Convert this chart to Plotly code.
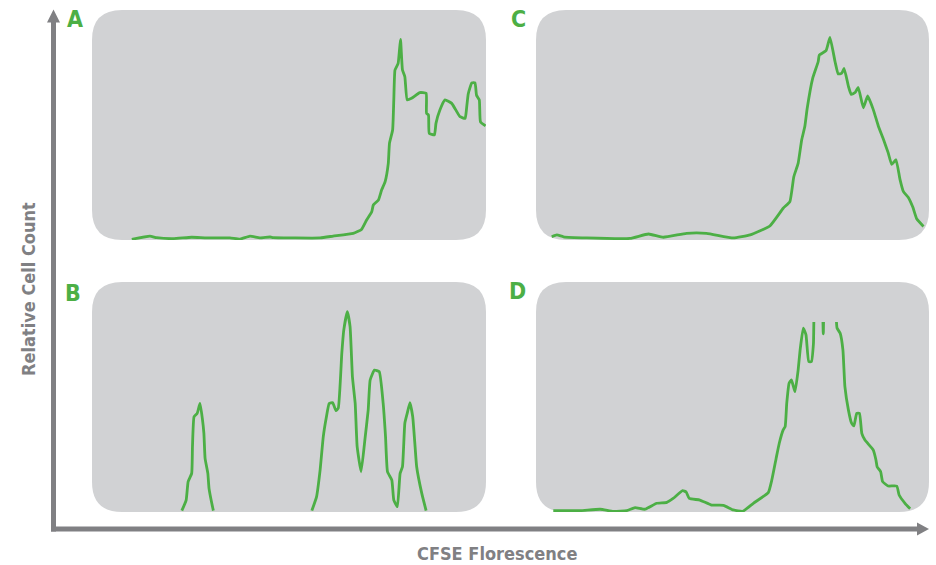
import plotly.graph_objects as go

W, H = 936, 565

# ---- data (x: % of panel width, y: relative count %) ----
a_x = [10.1, 14.7, 16.4, 20.6, 25.3, 29.1, 35.0, 37.6, 40.1, 42.6, 45.2, 46.0, 51.1, 57.9, 61.2, 66.3,
       68.4, 69.7, 71.0, 71.4, 72.7, 73.5, 74.4, 75.2, 75.5, 76.3, 76.6, 76.9, 77.7, 78.3, 78.8, 79.4,
       80.0, 81.1, 83.2, 84.8, 84.9, 85.4, 85.6, 86.9, 87.3, 88.3, 89.6, 91.3, 93.4, 94.7, 95.1, 95.5,
       96.4, 97.2, 97.6, 98.3, 98.6, 99.9]
a_y = [0.3, 1.7, 1.0, 0.6, 1.2, 0.9, 0.9, 0.4, 1.7, 0.9, 1.3, 1.0, 0.9, 0.9, 1.7, 2.9,
       4.6, 8.7, 12.3, 15.2, 17.4, 21.7, 25.4, 33.3, 42.0, 47.8, 60.9, 73.9, 76.8, 87.2, 73.9, 71.0,
       60.9, 61.6, 64.1, 63.8, 55.1, 54.3, 46.4, 45.7, 50.7, 56.5, 60.9, 59.4, 53.6, 52.9, 57.8, 63.6,
       68.3, 68.3, 62.9, 60.9, 51.4, 49.6]

b_x = [22.8, 23.9, 24.4, 25.3, 25.5, 25.9, 26.7, 27.4, 28.0, 28.4, 28.7, 29.4, 29.7, 30.4, 30.8, None,
       55.8, 57.0, 57.9, 58.7, 59.5, 60.2, 61.1, 61.9, 62.5, 63.4, 63.9, 64.8, 65.5, 66.1, 66.8, 67.3,
       68.3, 69.3, 70.1, 70.6, 71.7, 72.9, 73.9, 74.5, 75.0, 76.1, 76.6, 77.5, 78.2, 78.8, 79.4, 80.0,
       80.7, 81.4, 82.0, 82.4, 83.7, 84.8]
b_y = [0.6, 5.2, 13.2, 16.8, 28.4, 41.4, 42.9, 47.2, 40.7, 34.2, 23.3, 16.8, 10.3, 3.8, 0.6, None,
       0.6, 6.7, 18.3, 32.8, 41.4, 47.2, 47.5, 44.1, 45.1, 69.0, 79.1, 87.1, 80.6, 58.8, 47.2, 28.4,
       17.5, 32.0, 44.3, 57.4, 61.7, 61.0, 47.2, 32.8, 17.5, 13.9, 5.2, 2.3, 16.8, 19.7, 38.6, 42.9,
       47.5, 41.4, 28.4, 19.7, 8.1, 0.6]

c_x = [4.0, 5.3, 7.0, 12.9, 23.9, 28.6, 32.4, 38.3, 43.4, 50.2, 54.5, 59.5, 62.9, 64.6, 65.6, 66.7,
       67.6, 68.4, 69.0, 70.4, 71.8, 72.1, 73.8, 74.8, 76.1, 76.9, 77.8, 78.4, 79.5, 80.2, 81.2, 82.0,
       83.3, 84.4, 85.8, 87.1, 88.4, 89.6, 90.5, 91.6, 92.6, 93.5, 94.7, 95.9, 96.9, 98.6]
c_y = [1.4, 2.2, 1.4, 0.9, 0.7, 2.6, 1.2, 2.9, 2.9, 0.9, 2.2, 6.1, 13.8, 16.7, 27.5, 33.3,
       43.5, 49.3, 57.2, 70.3, 77.5, 80.4, 82.3, 88.1, 77.5, 72.2, 72.5, 74.6, 66.8, 63.3, 64.1, 66.3,
       57.5, 62.6, 56.8, 49.6, 43.8, 38.0, 32.9, 34.9, 26.5, 21.0, 18.6, 14.2, 9.1, 5.9]

d_x = [4.4, 11.2, 16.3, 19.7, 23.1, 25.2, 27.7, 30.7, 33.3, 34.9, 37.3, 38.2, 39.0, 41.7, 44.7, 47.7,
       50.2, 52.6, 55.3, 59.1, 60.0, 61.1, 61.9, 62.9, 63.4, 63.8, 64.4, 65.0, 65.9, 66.7, 67.2, 68.0,
       68.7, 69.4, 70.1, 70.6, 71.1, 72.6, 73.1, 73.6, 75.8, 76.6, 77.4, 78.1, 78.6, 79.5, 80.3, 80.9,
       81.6, 82.3, 82.9, 83.7, 85.8, 86.5, 86.8, 87.7, 88.2, 89.6, 91.8, 92.4, 93.9, 95.2]
d_y = [0.6, 0.6, 1.2, 0.3, 0.6, 1.9, 1.2, 3.8, 4.2, 5.9, 9.3, 8.7, 5.9, 5.2, 3.0, 2.9,
       0.9, 0.3, 3.8, 8.4, 13.9, 23.3, 29.9, 35.7, 37.1, 47.2, 56.0, 57.4, 52.3, 61.7, 70.4, 79.9,
       77.0, 65.4, 65.4, 73.3, 95.0, 95.0, 77.5, 95.0, 95.0, 80.0, 77.7, 70.4, 54.5, 44.3, 38.6, 37.4,
       42.9, 42.9, 34.2, 31.3, 27.0, 22.6, 19.7, 17.5, 13.2, 11.3, 11.3, 7.4, 3.8, 1.4]

panel_labels = ["A", "B", "C", "D"]
y_axis_title = "Relative Cell Count"
x_axis_title = "CFSE Florescence"

# ---- layout geometry (pixels) ----
GREEN = "#4caf45"
GRAY = "#808083"
PANEL = "#d1d2d4"
FONT = "DejaVu Sans Condensed, Liberation Sans Narrow, sans-serif"

boxes = {  # x0, x1, ytop, ybottom, clip top
    "A": (92, 486, 10, 240, 10),
    "B": (92, 486, 282, 512, 282),
    "C": (536, 929, 10, 240, 10),
    "D": (536, 929, 282, 512, 322),
}
data = {"A": (a_x, a_y), "B": (b_x, b_y), "C": (c_x, c_y), "D": (d_x, d_y)}
label_pos = {"A": (74.5, 18.5), "B": (73, 293), "C": (518, 18.5), "D": (517.5, 291)}


def fx(px):
    return px / W


def fy(py):
    return 1 - py / H


fig = go.Figure()
layout_axes = {}
shapes = []
annotations = []

for i, k in enumerate(panel_labels):
    n = i + 1
    x0, x1, yt, yb, clip = boxes[k]
    xs, ys = data[k]
    suffix = "" if n == 1 else str(n)
    fig.add_trace(go.Scatter(
        x=xs, y=ys, mode="lines", line=dict(color=GREEN, width=2.8, shape="spline", smoothing=0.4),
        xaxis="x" + suffix, yaxis="y" + suffix, showlegend=False, hoverinfo="skip", connectgaps=False,
    ))
    ytop_val = (yb - clip) / (yb - yt) * 100
    layout_axes["xaxis" + suffix] = dict(domain=[fx(x0), fx(x1)], range=[0, 100], visible=False,
                                         anchor="y" + suffix, fixedrange=True)
    layout_axes["yaxis" + suffix] = dict(domain=[fy(yb), fy(clip)], range=[0, ytop_val], visible=False,
                                         anchor="x" + suffix, fixedrange=True)
    # rounded panel background
    r = 30
    rx, ry = r / W, r / H
    X0, X1, Y0, Y1 = fx(x0), fx(x1), fy(yb), fy(yt)
    path = (f"M {X0 + rx} {Y0} L {X1 - rx} {Y0} Q {X1} {Y0} {X1} {Y0 + ry} "
            f"L {X1} {Y1 - ry} Q {X1} {Y1} {X1 - rx} {Y1} "
            f"L {X0 + rx} {Y1} Q {X0} {Y1} {X0} {Y1 - ry} "
            f"L {X0} {Y0 + ry} Q {X0} {Y0} {X0 + rx} {Y0} Z")
    shapes.append(dict(type="path", path=path, xref="paper", yref="paper",
                       fillcolor=PANEL, line=dict(width=0), layer="below"))
    lx, ly = label_pos[k]
    annotations.append(dict(text=f"<b>{k}</b>", x=fx(lx), y=fy(ly), xref="paper", yref="paper",
                            showarrow=False, xanchor="center", yanchor="middle",
                            font=dict(family=FONT, size=23, color=GREEN)))

# axis lines with arrowheads
shapes.append(dict(type="line", xref="paper", yref="paper", x0=fx(53.5), x1=fx(53.5),
                   y0=fy(531.5), y1=fy(22), line=dict(color=GRAY, width=5)))
shapes.append(dict(type="path", xref="paper", yref="paper", fillcolor=GRAY, line=dict(width=0),
                   path=f"M {fx(47)} {fy(22.5)} L {fx(60)} {fy(22.5)} L {fx(53.5)} {fy(9.5)} Z"))
shapes.append(dict(type="line", xref="paper", yref="paper", x0=fx(51), x1=fx(918),
                   y0=fy(529), y1=fy(529), line=dict(color=GRAY, width=5)))
shapes.append(dict(type="path", xref="paper", yref="paper", fillcolor=GRAY, line=dict(width=0),
                   path=f"M {fx(917)} {fy(522.5)} L {fx(917)} {fy(535.5)} L {fx(929)} {fy(529)} Z"))

annotations.append(dict(text=f"<b>{y_axis_title}</b>", x=fx(28), y=fy(289), xref="paper", yref="paper",
                        showarrow=False, textangle=-90, xanchor="center", yanchor="middle",
                        font=dict(family=FONT, size=18, color=GRAY)))
annotations.append(dict(text=f"<b>{x_axis_title}</b>", x=fx(497), y=fy(553), xref="paper", yref="paper",
                        showarrow=False, xanchor="center", yanchor="middle",
                        font=dict(family=FONT, size=18, color=GRAY)))

fig.update_layout(
    width=W, height=H, margin=dict(l=0, r=0, t=0, b=0),
    paper_bgcolor="white", plot_bgcolor="rgba(0,0,0,0)",
    shapes=shapes, annotations=annotations, showlegend=False,
    **layout_axes,
)

fig.write_html("out.html", config={"displayModeBar": False},
               post_script="document.body.style.margin='0';document.body.style.padding='0';")
